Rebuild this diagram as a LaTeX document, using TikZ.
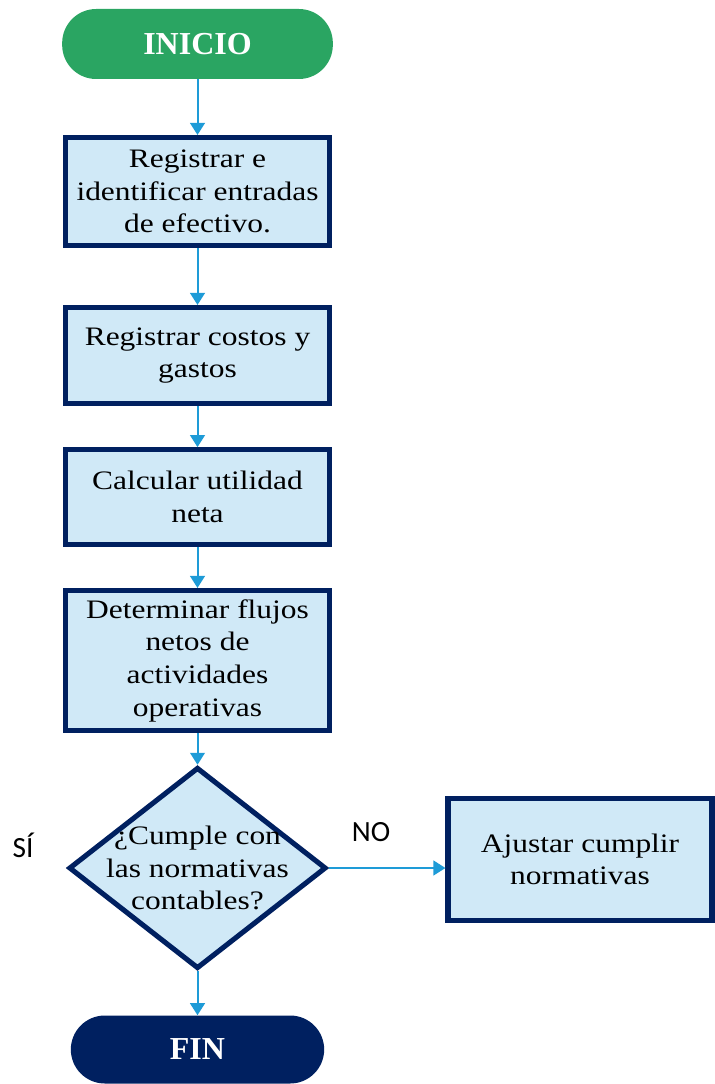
\documentclass[tikz,border=0pt]{standalone}
\usepackage{fontspec}
\setmainfont{Liberation Serif}
\setsansfont{Carlito}
\newfontfamily\anchafont[FakeStretch=1.18]{Liberation Serif}
\usetikzlibrary{arrows.meta,shapes.geometric}
\definecolor{verde}{RGB}{42,165,98}
\definecolor{marino}{RGB}{0,32,96}
\definecolor{celeste}{RGB}{208,233,247}
\definecolor{azul}{RGB}{30,155,215}
\begin{document}
\begin{tikzpicture}[x=0.75pt,y=-0.75pt,
	paso/.style={draw=marino,line width=3.8pt,fill=celeste,minimum width=198pt,align=center,inner sep=2pt,font=\anchafont\fontsize{20}{24.5}\selectfont},
	terminal/.style={rounded corners=25.5pt,text=white,font=\bfseries\fontsize{24}{28}\selectfont},
	decision/.style={diamond,draw=marino,line width=3.8pt,fill=celeste,minimum width=193pt,minimum height=151pt,inner sep=0pt},
	flecha/.style={draw=azul,line width=1.5pt,-{Triangle[width=11pt,length=9pt]}},
	etiqueta/.style={font=\sffamily\fontsize{22}{26}\selectfont}]
\useasboundingbox (0,0) rectangle (714,1084);
\node[terminal,fill=verde,minimum width=203pt,minimum height=52.5pt] (inicio) at (197.5,44) {INICIO};
\node[paso,minimum height=81pt] (b1) at (197.5,191.5) {Registrar e\\identificar entradas\\de efectivo.};
\node[paso,minimum height=72pt] (b2) at (197.5,355.5) {Registrar costos y\\gastos};
\node[paso,minimum height=71pt] (b3) at (197.5,497) {Calcular utilidad\\neta};
\node[paso,minimum height=105pt] (b4) at (197.5,660.5) {Determinar flujos\\netos de\\actividades\\operativas};
\node[decision] (dec) at (197.5,868) {};
\node[align=center,font=\anchafont\fontsize{20}{24.5}\selectfont] (pregunta) at (dec) {¿Cumple con\\las normativas\\contables?};
\node[paso,minimum height=91pt] (ajustar) at (580,859.5) {Ajustar cumplir\\normativas};
\node[terminal,fill=marino,minimum width=190pt,minimum height=51pt] (fin) at (197.5,1049.5) {FIN};
\node[etiqueta] (si) at (23,845) {SÍ};
\node[etiqueta] (no) at (371,832) {NO};
\foreach \a/\b in {inicio/b1,b1/b2,b2/b3,b3/b4,b4/dec,dec/fin}
	\draw[flecha] (\a) -- (\b);
\draw[flecha] (dec.east) -- (dec.east -| ajustar.west);
\end{tikzpicture}
\end{document}
